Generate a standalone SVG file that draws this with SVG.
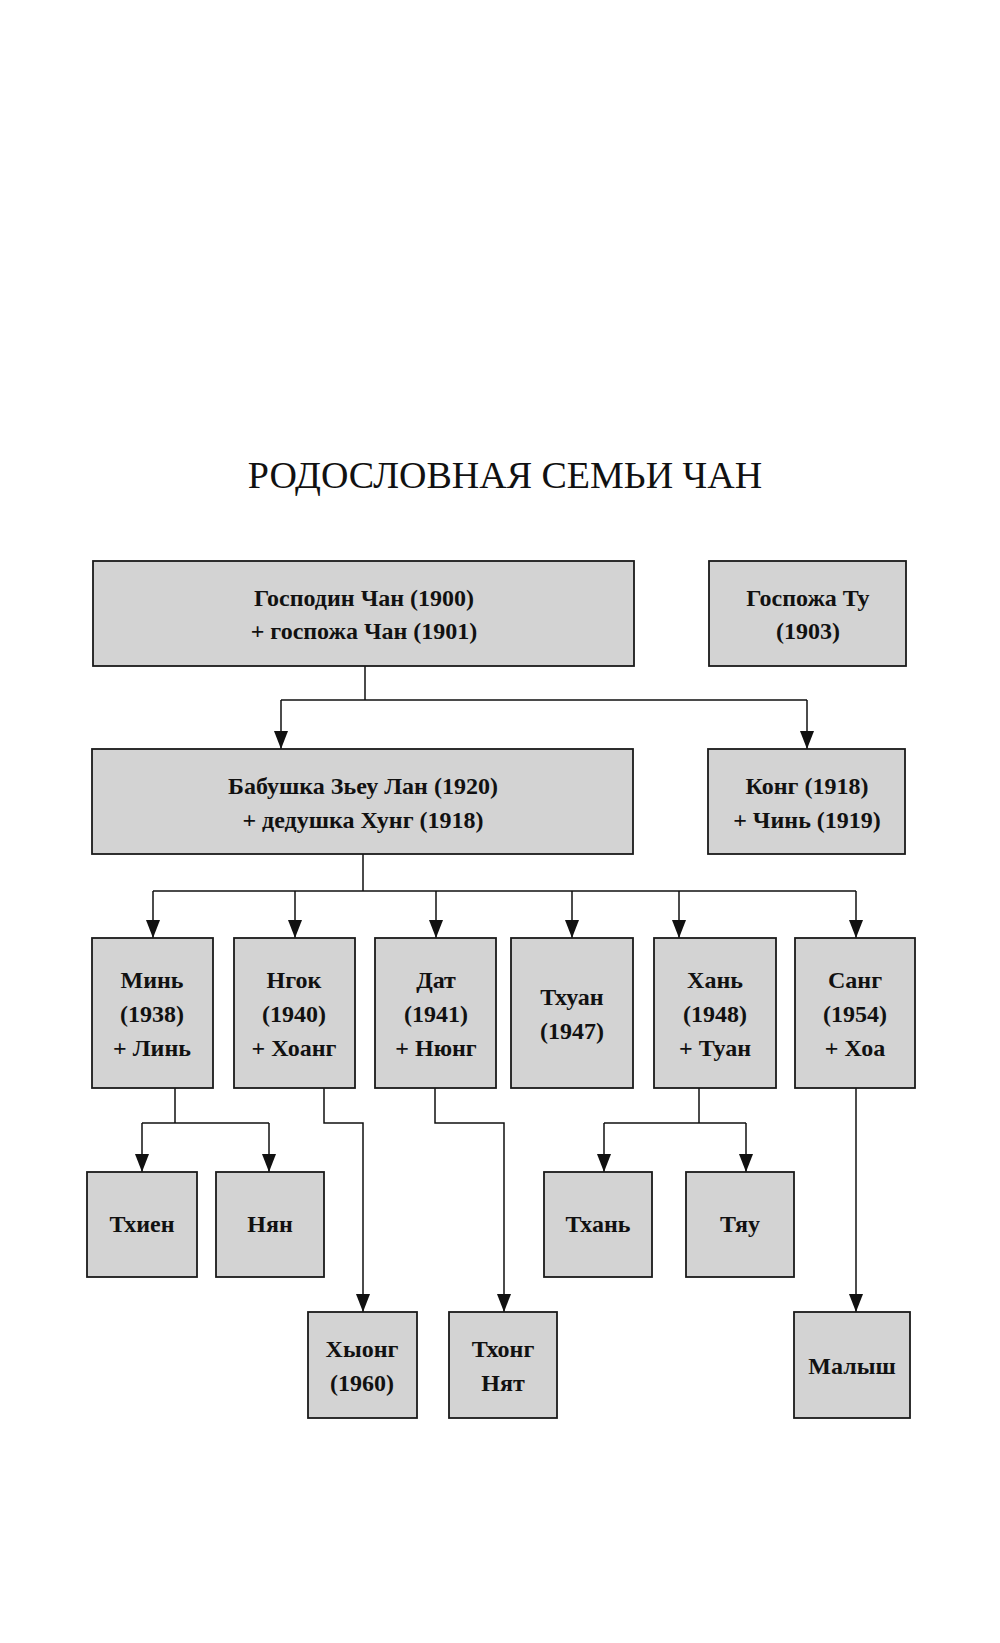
<svg xmlns="http://www.w3.org/2000/svg" width="1000" height="1643" viewBox="0 0 1000 1643">
<style>
.box{fill:#d3d3d3;stroke:#1a1a1a;stroke-width:1.8}
.t{font-family:"Liberation Serif","Times New Roman",serif;font-size:24px;font-weight:bold;fill:#111;text-anchor:middle}
.title{font-family:"Liberation Serif","Times New Roman",serif;font-size:38px;fill:#111;text-anchor:middle}
.c{fill:none;stroke:#111;stroke-width:1.5}
</style>
<defs>
<marker id="arr" viewBox="0 0 18 14" refX="18" refY="7" markerWidth="18" markerHeight="14" markerUnits="userSpaceOnUse" orient="auto">
<path d="M0,0 L18,7 L0,14 Z" fill="#111"/>
</marker>
</defs>
<rect width="1000" height="1643" fill="#fff"/>
<text class="title" x="505" y="488">РОДОСЛОВНАЯ СЕМЬИ ЧАН</text>

<g id="connectors">
<path class="c" d="M365,666 V700 M281,700 H807"/>
<path class="c" d="M281,700 V749" marker-end="url(#arr)"/>
<path class="c" d="M807,700 V749" marker-end="url(#arr)"/>
<path class="c" d="M363,854 V891 M153,891 H856"/>
<path class="c" d="M153,891 V938" marker-end="url(#arr)"/>
<path class="c" d="M295,891 V938" marker-end="url(#arr)"/>
<path class="c" d="M436,891 V938" marker-end="url(#arr)"/>
<path class="c" d="M572,891 V938" marker-end="url(#arr)"/>
<path class="c" d="M679,891 V938" marker-end="url(#arr)"/>
<path class="c" d="M856,891 V938" marker-end="url(#arr)"/>
<path class="c" d="M175,1088 V1123 M142,1123 H269"/>
<path class="c" d="M142,1123 V1172" marker-end="url(#arr)"/>
<path class="c" d="M269,1123 V1172" marker-end="url(#arr)"/>
<path class="c" d="M324,1088 V1123 H363 V1312" marker-end="url(#arr)"/>
<path class="c" d="M435,1088 V1123 H504 V1312" marker-end="url(#arr)"/>
<path class="c" d="M699,1088 V1123 M604,1123 H746"/>
<path class="c" d="M604,1123 V1172" marker-end="url(#arr)"/>
<path class="c" d="M746,1123 V1172" marker-end="url(#arr)"/>
<path class="c" d="M856,1088 V1312" marker-end="url(#arr)"/>
</g>

<g id="n-chan"><rect class="box" x="93" y="561" width="541" height="105"/>
<text class="t" x="364" y="606">Господин Чан (1900)</text><text class="t" x="364" y="639">+ госпожа Чан (1901)</text></g>
<g id="n-tu"><rect class="box" x="709" y="561" width="197" height="105"/>
<text class="t" x="808" y="606">Госпожа Ту</text><text class="t" x="808" y="639">(1903)</text></g>

<g id="n-lan"><rect class="box" x="92" y="749" width="541" height="105"/>
<text class="t" x="363" y="794">Бабушка Зьеу Лан (1920)</text><text class="t" x="363" y="828">+ дедушка Хунг (1918)</text></g>
<g id="n-kong"><rect class="box" x="708" y="749" width="197" height="105"/>
<text class="t" x="807" y="794">Конг (1918)</text><text class="t" x="807" y="828">+ Чинь (1919)</text></g>

<g id="n-minh"><rect class="box" x="92" y="938" width="121" height="150"/>
<text class="t" x="152" y="988">Минь</text><text class="t" x="152" y="1022">(1938)</text><text class="t" x="152" y="1056">+ Линь</text></g>
<g id="n-ngok"><rect class="box" x="234" y="938" width="121" height="150"/>
<text class="t" x="294" y="988">Нгок</text><text class="t" x="294" y="1022">(1940)</text><text class="t" x="294" y="1056">+ Хоанг</text></g>
<g id="n-dat"><rect class="box" x="375" y="938" width="121" height="150"/>
<text class="t" x="436" y="988">Дат</text><text class="t" x="436" y="1022">(1941)</text><text class="t" x="436" y="1056">+ Нюнг</text></g>
<g id="n-thuan"><rect class="box" x="511" y="938" width="122" height="150"/>
<text class="t" x="572" y="1005">Тхуан</text><text class="t" x="572" y="1039">(1947)</text></g>
<g id="n-hanh"><rect class="box" x="654" y="938" width="122" height="150"/>
<text class="t" x="715" y="988">Хань</text><text class="t" x="715" y="1022">(1948)</text><text class="t" x="715" y="1056">+ Туан</text></g>
<g id="n-sang"><rect class="box" x="795" y="938" width="120" height="150"/>
<text class="t" x="855" y="988">Санг</text><text class="t" x="855" y="1022">(1954)</text><text class="t" x="855" y="1056">+ Хоа</text></g>

<g id="n-thien"><rect class="box" x="87" y="1172" width="110" height="105"/>
<text class="t" x="142" y="1232">Тхиен</text></g>
<g id="n-nyan"><rect class="box" x="216" y="1172" width="108" height="105"/>
<text class="t" x="270" y="1232">Нян</text></g>
<g id="n-thanh"><rect class="box" x="544" y="1172" width="108" height="105"/>
<text class="t" x="598" y="1232">Тхань</text></g>
<g id="n-tyau"><rect class="box" x="686" y="1172" width="108" height="105"/>
<text class="t" x="740" y="1232">Тяу</text></g>

<g id="n-huong"><rect class="box" x="308" y="1312" width="109" height="106"/>
<text class="t" x="362" y="1357">Хыонг</text><text class="t" x="362" y="1391">(1960)</text></g>
<g id="n-thong"><rect class="box" x="449" y="1312" width="108" height="106"/>
<text class="t" x="503" y="1357">Тхонг</text><text class="t" x="503" y="1391">Нят</text></g>
<g id="n-malysh"><rect class="box" x="794" y="1312" width="116" height="106"/>
<text class="t" x="852" y="1374">Малыш</text></g>
</svg>
